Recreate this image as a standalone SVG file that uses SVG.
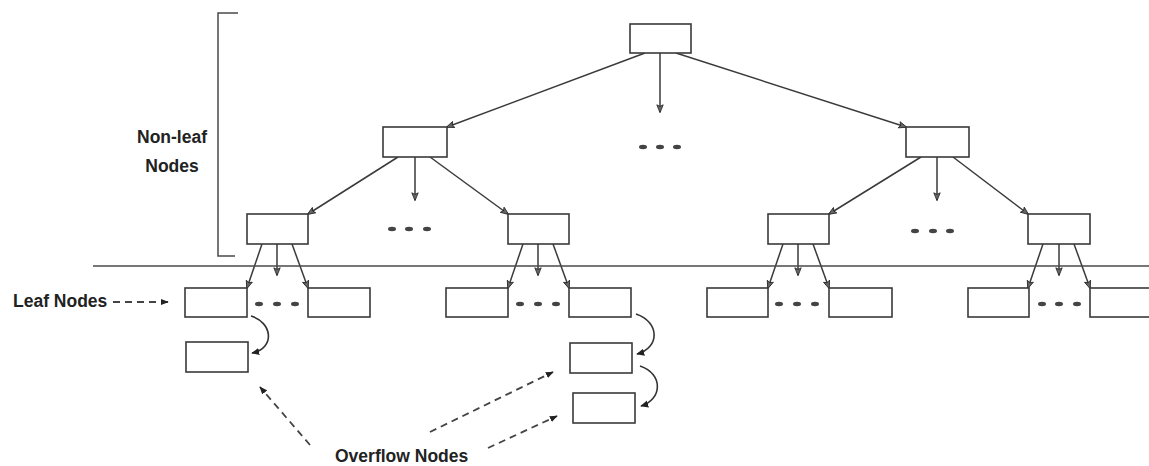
<svg xmlns="http://www.w3.org/2000/svg" width="1149" height="466" viewBox="0 0 1149 466">
<style>
.box{fill:#fff;stroke:#3a3a3a;stroke-width:1.6}
.ln{fill:none;stroke:#4a4a4a;stroke-width:1.5}
.arr{fill:none;stroke:#3a3a3a;stroke-width:1.5;marker-end:url(#ah)}
.carr{fill:none;stroke:#333;stroke-width:1.6;marker-end:url(#ch)}
.dash{fill:none;stroke:#444;stroke-width:1.8;stroke-dasharray:7 5;marker-end:url(#dh)}
.dot{fill:#444}
.lbl{font-family:"Liberation Sans",Arial,sans-serif;font-weight:bold;font-size:17.5px;fill:#222}
</style>
<defs>
<marker id="ah" viewBox="0 0 10 10" refX="9" refY="5" markerWidth="10" markerHeight="8" markerUnits="userSpaceOnUse" orient="auto">
<path d="M0,1 L10,5 L0,9 L2,5 Z" fill="#666" stroke="#222" stroke-width="1"/>
</marker>
<marker id="ch" viewBox="0 0 10 10" refX="9" refY="5" markerWidth="8" markerHeight="8" markerUnits="userSpaceOnUse" orient="auto">
<path d="M0,0.5 L10,5 L0,9.5 Z" fill="#222"/>
</marker>
<marker id="dh" viewBox="0 0 10 10" refX="9" refY="5" markerWidth="8" markerHeight="8" markerUnits="userSpaceOnUse" orient="auto">
<path d="M0,1 L10,5 L0,9 Z" fill="#222"/>
</marker>
</defs>
<rect width="1149" height="466" fill="#fff"/>

<g id="connectors">
<line class="arr" x1="645" y1="53" x2="447" y2="127"/>
<line class="arr" x1="660" y1="53" x2="660" y2="112"/>
<line class="arr" x1="676" y1="53" x2="906" y2="127"/>
<line class="arr" x1="398" y1="157" x2="308" y2="214"/>
<line class="arr" x1="415" y1="157" x2="415" y2="200"/>
<line class="arr" x1="430" y1="157" x2="508" y2="214"/>
<line class="arr" x1="921" y1="157" x2="829" y2="214"/>
<line class="arr" x1="937" y1="157" x2="937" y2="200"/>
<line class="arr" x1="953" y1="157" x2="1028" y2="214"/>
<line class="arr" x1="262" y1="244" x2="247" y2="288"/>
<line class="arr" x1="277" y1="244" x2="277" y2="275"/>
<line class="arr" x1="292" y1="244" x2="308" y2="288"/>
<line class="arr" x1="523" y1="244" x2="508" y2="288"/>
<line class="arr" x1="538" y1="244" x2="538" y2="275"/>
<line class="arr" x1="553" y1="244" x2="569" y2="288"/>
<line class="arr" x1="783" y1="244" x2="768" y2="288"/>
<line class="arr" x1="798" y1="244" x2="798" y2="275"/>
<line class="arr" x1="813" y1="244" x2="829" y2="288"/>
<line class="arr" x1="1043" y1="244" x2="1028" y2="288"/>
<line class="arr" x1="1059" y1="244" x2="1059" y2="275"/>
<line class="arr" x1="1074" y1="244" x2="1090" y2="288"/>
<path class="carr" d="M251,316 C272,322 276,348 252,353"/>
<path class="carr" d="M636,314 C660,322 660,348 637,354"/>
<path class="carr" d="M640,366 C664,374 662,400 641,406"/>
<line class="dash" x1="113" y1="302" x2="168" y2="302"/>
<line class="dash" x1="310" y1="445" x2="260" y2="387"/>
<line class="dash" x1="430" y1="432" x2="553" y2="372"/>
<line class="dash" x1="488" y1="448" x2="557" y2="416"/>
</g>

<g id="separator">
<line class="ln" x1="93" y1="266" x2="1149" y2="266"/>
<path class="ln" d="M238,13 H218 V256 H235"/>
</g>

<g id="root"><rect class="box" x="630" y="24" width="61" height="29"/></g>
<g id="l2-left"><rect class="box" x="383" y="127" width="64" height="30"/></g>
<g id="l2-right"><rect class="box" x="906" y="127" width="63" height="30"/></g>
<g id="l3-a"><rect class="box" x="247" y="214" width="61" height="30"/></g>
<g id="l3-b"><rect class="box" x="508" y="214" width="61" height="30"/></g>
<g id="l3-c"><rect class="box" x="768" y="214" width="61" height="30"/></g>
<g id="l3-d"><rect class="box" x="1028" y="214" width="62" height="30"/></g>

<g id="leaf-a1"><rect class="box" x="185" y="288" width="62" height="29"/></g>
<g id="leaf-a2"><rect class="box" x="308" y="288" width="62" height="29"/></g>
<g id="leaf-b1"><rect class="box" x="446" y="288" width="62" height="29"/></g>
<g id="leaf-b2"><rect class="box" x="569" y="288" width="62" height="29"/></g>
<g id="leaf-c1"><rect class="box" x="707" y="288" width="61" height="29"/></g>
<g id="leaf-c2"><rect class="box" x="829" y="288" width="63" height="29"/></g>
<g id="leaf-d1"><rect class="box" x="968" y="288" width="61" height="29"/></g>
<g id="leaf-d2"><rect class="box" x="1090" y="288" width="62" height="29"/></g>

<g id="overflow-a1"><rect class="box" x="186" y="342" width="62" height="30"/></g>
<g id="overflow-b1"><rect class="box" x="570" y="343" width="62" height="30"/></g>
<g id="overflow-b2"><rect class="box" x="573" y="393" width="62" height="30"/></g>

<g id="ellipses">
<ellipse class="dot" cx="643" cy="147" rx="4" ry="2.2"/>
<ellipse class="dot" cx="660" cy="147" rx="4" ry="2.2"/>
<ellipse class="dot" cx="677" cy="147" rx="4" ry="2.2"/>
<ellipse class="dot" cx="392" cy="229" rx="4" ry="2.2"/>
<ellipse class="dot" cx="409" cy="229" rx="4" ry="2.2"/>
<ellipse class="dot" cx="427" cy="229" rx="4" ry="2.2"/>
<ellipse class="dot" cx="915" cy="231" rx="4" ry="2.2"/>
<ellipse class="dot" cx="933" cy="231" rx="4" ry="2.2"/>
<ellipse class="dot" cx="950" cy="231" rx="4" ry="2.2"/>
<ellipse class="dot" cx="259" cy="304" rx="4" ry="2.2"/>
<ellipse class="dot" cx="277" cy="304" rx="4" ry="2.2"/>
<ellipse class="dot" cx="295" cy="304" rx="4" ry="2.2"/>
<ellipse class="dot" cx="520" cy="304" rx="4" ry="2.2"/>
<ellipse class="dot" cx="538" cy="304" rx="4" ry="2.2"/>
<ellipse class="dot" cx="556" cy="304" rx="4" ry="2.2"/>
<ellipse class="dot" cx="779" cy="304" rx="4" ry="2.2"/>
<ellipse class="dot" cx="797" cy="304" rx="4" ry="2.2"/>
<ellipse class="dot" cx="815" cy="304" rx="4" ry="2.2"/>
<ellipse class="dot" cx="1042" cy="304" rx="4" ry="2.2"/>
<ellipse class="dot" cx="1059" cy="304" rx="4" ry="2.2"/>
<ellipse class="dot" cx="1077" cy="304" rx="4" ry="2.2"/>
</g>

<g id="labels">
<text class="lbl" x="172" y="143" text-anchor="middle">Non-leaf</text>
<text class="lbl" x="172" y="172" text-anchor="middle">Nodes</text>
<text class="lbl" x="13" y="307">Leaf Nodes</text>
<text class="lbl" x="335" y="462">Overflow Nodes</text>
</g>
</svg>
